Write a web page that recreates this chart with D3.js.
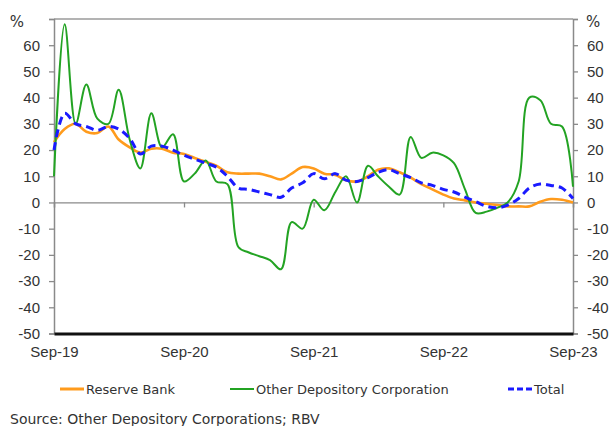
<!DOCTYPE html>
<html>
<head>
<meta charset="utf-8">
<script src="https://cdn.jsdelivr.net/npm/d3@7"></script>
<style>
  body { margin: 0; background: #fff; }
  svg { display: block; font-family: "DejaVu Sans", sans-serif; }
  .tick text { fill: #333; }
</style>
</head>
<body>
<div id="app"></div>
<script>
// monthly, Sep-19 .. Sep-23
const startMonth = new Date(2019, 8, 1);

const reserveBank = [23, 28, 30, 27, 26.5, 29, 24, 21, 19, 20.5, 20.5, 19, 18.5,
  17, 15.5, 14, 11.5, 11, 11, 11, 10, 8.8, 11, 13.5, 13,
  11, 10.5, 8.5, 8, 10, 12.5, 13, 11.5, 9.5, 7, 5, 3,
  1.5, 0.8, 0, -0.5, -1, -1.5, -1.5, -1.5, 0.3, 1.3, 1, 0];

const otherDepository = [10, 68, 30, 45, 32, 30, 43, 24, 13, 34, 21, 26, 8,
  11, 16, 8, 7, -17, -19, -20.5, -22, -25.5, -7.5, -10, 1,
  -3, 4, 10, 0, 14, 10, 6, 3, 25, 17, 19, 18,
  15, 5, -4, -3.5, -2, 0, 8, 40, 39, 30, 29, 6];

const total = [20, 34, 30, 29, 27.5, 29, 28, 24.5, 18.5, 21.5, 21.5, 20, 18,
  16.5, 15, 13.5, 10, 5.5, 5, 4, 3, 2, 5.5, 7.5, 11,
  9, 11, 8.5, 8, 9.5, 11.5, 12.5, 11, 9.5, 7.5, 6.5, 5,
  4, 2, 0.3, -1.5, -2, -1, 1.5, 5.5, 7, 6.5, 5.5, 1.5];

const yTicks = [-50, -40, -30, -20, -10, 0, 10, 20, 30, 40, 50, 60];
const xTickLabels = ['Sep-19', 'Sep-20', 'Sep-21', 'Sep-22', 'Sep-23'];

const seriesNames = ['Reserve Bank', 'Other Depository Corporation', 'Total'];
const seriesColors = ['#ff9b1c', '#23a323', '#1a1aff'];

const w = 614, h = 426;
const plotLeft = 54, plotRight = 573, plotTop = 19, plotBottom = 333.5;

const svg = d3.select('#app')
  .append('svg')
  .attr('width', w)
  .attr('height', h);

const months = reserveBank.map((d, i) => d3.timeMonth.offset(startMonth, i));

const xScale = d3.scaleTime()
  .domain([months[0], months[months.length - 1]])
  .range([plotLeft, plotRight]);

const yScale = d3.scaleLinear()
  .domain([-50, 70])
  .range([plotBottom, plotTop]);

const xTicks = xTickLabels.map((d, i) => d3.timeMonth.offset(startMonth, i * 12));

/////////FRAME//////////
svg.append('line')
  .attr('x1', plotLeft).attr('x2', plotRight)
  .attr('y1', plotTop).attr('y2', plotTop)
  .attr('stroke', '#9a9a9a').attr('stroke-width', 1.5);

// left axis
const yAxisLeft = d3.axisLeft(yScale).tickValues(yTicks.concat([70])).tickSize(5).tickPadding(9)
  .tickFormat((d) => d === 70 ? '' : d);
svg.append('g')
  .attr('transform', 'translate(' + plotLeft + ',0)')
  .call(yAxisLeft)
  .call((g) => {
    g.select('.domain').attr('stroke', '#8a8a8a').attr('stroke-width', 1.5);
    g.selectAll('.tick line').attr('stroke', '#8a8a8a').attr('stroke-width', 1.3);
    g.selectAll('.tick text').style('font-size', '15px');
  });

const yAxisRight = d3.axisRight(yScale).tickValues(yTicks.concat([70])).tickSize(5).tickPadding(9)
  .tickFormat((d) => d === 70 ? '' : d);
svg.append('g')
  .attr('transform', 'translate(' + plotRight + ',0)')
  .call(yAxisRight)
  .call((g) => {
    g.select('.domain').attr('stroke', '#8a8a8a').attr('stroke-width', 1.5);
    g.selectAll('.tick line').attr('stroke', '#8a8a8a').attr('stroke-width', 1.3);
    g.selectAll('.tick text').style('font-size', '15px');
  });

svg.append('text')
  .attr('x', 24).attr('y', 27)
  .attr('text-anchor', 'end')
  .style('font-size', '15px').attr('fill', '#333')
  .text('%');

svg.append('text')
  .attr('x', 586).attr('y', 27)
  .style('font-size', '15px').attr('fill', '#333')
  .text('%');

// zero line with ticks
const xAxis = d3.axisBottom(xScale).tickValues(xTicks).tickSize(5).tickFormat('');
svg.append('g')
  .attr('transform', 'translate(0,' + yScale(0) + ')')
  .call(xAxis)
  .call((g) => {
    g.select('.domain').attr('stroke', '#8a8a8a').attr('stroke-width', 1.3);
    g.selectAll('.tick line').attr('stroke', '#8a8a8a').attr('stroke-width', 1.3);
  });

// bottom thick line + labels
const xAxisBottom = d3.axisBottom(xScale).tickValues(xTicks).tickSize(0).tickPadding(13)
  .tickFormat((d, i) => xTickLabels[i]);
svg.append('g')
  .attr('transform', 'translate(0,' + plotBottom + ')')
  .call(xAxisBottom)
  .call((g) => {
    g.select('.domain').attr('stroke', '#111').attr('stroke-width', 3);
    g.selectAll('.tick text').style('font-size', '15px');
  });

//////////LINES//////////
const line = d3.line()
  .x((d, i) => xScale(months[i]))
  .y((d) => yScale(d))
  .curve(d3.curveCatmullRom.alpha(0.5));

svg.append('path')
  .datum(reserveBank)
  .attr('fill', 'none')
  .attr('stroke', seriesColors[0])
  .attr('stroke-width', 2.6)
  .attr('d', line);

svg.append('path')
  .datum(otherDepository)
  .attr('fill', 'none')
  .attr('stroke', seriesColors[1])
  .attr('stroke-width', 2)
  .attr('d', line);

svg.append('path')
  .datum(total)
  .attr('fill', 'none')
  .attr('stroke', seriesColors[2])
  .attr('stroke-width', 3)
  .attr('stroke-dasharray', '8,5')
  .attr('d', line);

//////////LEGEND//////////
const legendX = [60, 230, 508];
const legendY = 389;

const legend = svg.selectAll('.legendItem')
  .data(seriesNames)
  .enter()
  .append('g')
  .attr('class', 'legendItem')
  .attr('transform', (d, i) => 'translate(' + legendX[i] + ',' + legendY + ')');

legend.append('line')
  .attr('x1', 0).attr('x2', 24)
  .attr('y1', 0).attr('y2', 0)
  .attr('stroke', (d, i) => seriesColors[i])
  .attr('stroke-width', (d, i) => i === 1 ? 2 : 3)
  .attr('stroke-dasharray', (d, i) => i === 2 ? '6,3' : null);

legend.append('text')
  .attr('x', 26)
  .attr('y', 5)
  .style('font-size', '13px')
  .attr('fill', '#333')
  .text((d) => d);

svg.append('text')
  .attr('x', 10)
  .attr('y', 424)
  .style('font-size', '14px')
  .attr('fill', '#333')
  .text('Source: Other Depository Corporations; RBV');
</script>
</body>
</html>
